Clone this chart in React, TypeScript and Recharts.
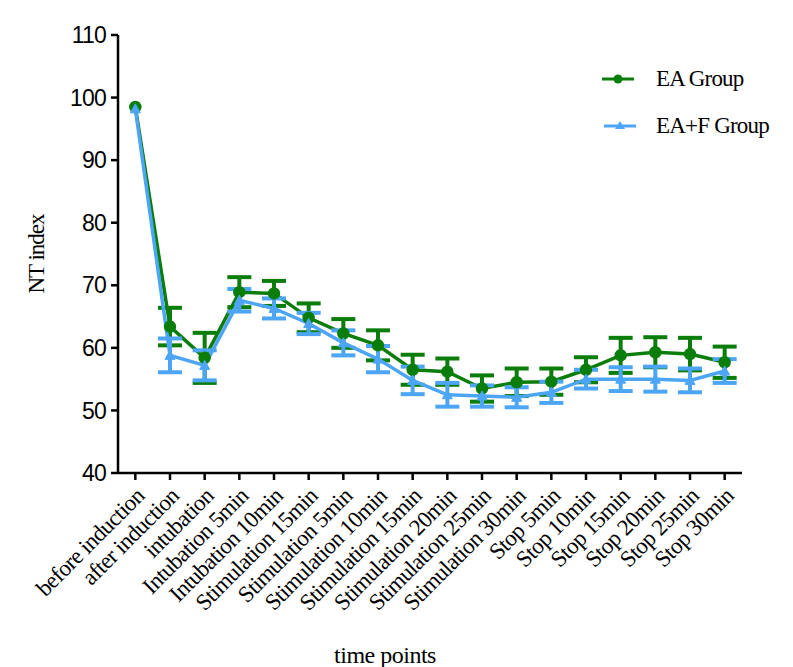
import React from "react";
import { LineChart, Line, XAxis, YAxis, ErrorBar, Legend } from "recharts";

const timePoints = [
  "before induction", "after induction", "intubation", "Intubation 5min", "Intubation 10min",
  "Stimulation 15min", "Stimulation 5min", "Stimulation 10min", "Stimulation 15min",
  "Stimulation 20min", "Stimulation 25min", "Stimulation 30min", "Stop 5min", "Stop 10min",
  "Stop 15min", "Stop 20min", "Stop 25min", "Stop 30min",
];
const eaMean = [98.5, 63.4, 58.4, 68.9, 68.7, 64.8, 62.3, 60.4, 56.5, 56.2, 53.5, 54.5, 54.6, 56.5, 58.8, 59.3, 59.0, 57.7];
const eaErr = [0, 3.0, 4.0, 2.4, 2.0, 2.3, 2.3, 2.4, 2.4, 2.1, 2.1, 2.2, 2.1, 2.0, 2.8, 2.4, 2.6, 2.5];
const eafMean = [98.2, 58.8, 57.2, 67.6, 66.3, 63.9, 60.8, 58.2, 54.8, 52.5, 52.3, 52.1, 52.9, 55.0, 55.0, 55.0, 54.8, 56.3];
const eafErr = [0, 2.7, 2.4, 1.8, 1.6, 1.7, 2.0, 2.1, 2.2, 1.9, 1.7, 1.6, 1.7, 1.5, 1.9, 2.0, 1.9, 1.9];
const yTicks = [40, 50, 60, 70, 80, 90, 100, 110];

const GREEN = "#0a7d0a";
const BLUE = "#4da6f5";

const data = timePoints.map((t, i) => ({
  idx: i,
  label: t,
  ea: eaMean[i],
  eaE: eaErr[i],
  eaf: eafMean[i],
  eafE: eafErr[i],
}));

const XTick = (props: any) => {
  const { x, y, payload } = props;
  const label = timePoints[payload.value] ?? "";
  const ax = x + 5;
  const ay = y + 10;
  return (
    <text
      x={ax}
      y={ay}
      transform={`rotate(-45, ${ax}, ${ay})`}
      textAnchor="end"
      dominantBaseline="central"
      fontFamily="'Liberation Serif', 'DejaVu Serif', serif"
      fontSize={23}
      letterSpacing={-0.6}
      fill="#000"
    >
      {label}
    </text>
  );
};

const Triangle = (props: any) => {
  const { cx, cy, index } = props;
  if (cx == null || cy == null) return <g key={`t${index}`} />;
  const s = 5;
  return (
    <polygon
      key={`t${index}`}
      points={`${cx},${cy - s} ${cx - s},${cy + s * 0.8} ${cx + s},${cy + s * 0.8}`}
      fill={BLUE}
      stroke={BLUE}
    />
  );
};

const LegendContent = () => (
  <div style={{ fontFamily: "'Liberation Serif', serif", fontSize: 23, color: "#000", letterSpacing: -0.8 }}>
    <div style={{ display: "flex", alignItems: "center", height: 47 }}>
      <svg width={40} height={20}>
        <line x1={2} y1={10} x2={34} y2={10} stroke={GREEN} strokeWidth={3} />
        <circle cx={18} cy={10} r={4.5} fill={GREEN} />
      </svg>
      <span style={{ marginLeft: 16 }}>EA Group</span>
    </div>
    <div style={{ display: "flex", alignItems: "center", height: 47 }}>
      <svg width={40} height={20}>
        <line x1={4} y1={10} x2={36} y2={10} stroke={BLUE} strokeWidth={3} />
        <polygon points="20,5 15,13 25,13" fill={BLUE} />
      </svg>
      <span style={{ marginLeft: 16 }}>EA+F Group</span>
    </div>
  </div>
);

export default function App() {
  return (
    <div style={{ position: "absolute", left: 0, top: 0, width: 793, height: 667, background: "#fff" }}>
      <LineChart
        width={793}
        height={667}
        data={data}
        margin={{ top: 35, right: 51, bottom: 4, left: 58 }}
      >
        <XAxis
          dataKey="idx"
          type="number"
          domain={[-0.5, 17.5]}
          ticks={data.map((d) => d.idx)}
          interval={0}
          tick={<XTick />}
          tickSize={7}
          tickMargin={2}
          height={190}
          axisLine={{ stroke: "#000", strokeWidth: 2.5 }}
          tickLine={{ stroke: "#000", strokeWidth: 2.5 }}
          label={{
            value: "time points",
            position: "insideBottom",
            offset: 0,
            dx: -45,
            fontFamily: "'Liberation Serif', serif",
            fontSize: 24,
            fill: "#000",
            letterSpacing: -0.5,
          }}
        />
        <YAxis
          domain={[40, 110]}
          ticks={yTicks}
          width={60}
          tickSize={7}
          tickMargin={5}
          axisLine={{ stroke: "#000", strokeWidth: 2.5 }}
          tickLine={{ stroke: "#000", strokeWidth: 2.5 }}
          tick={{ fontFamily: "'Liberation Sans', Arial, sans-serif", fontSize: 23, fill: "#000", letterSpacing: -0.8 }}
          label={{
            value: "NT index",
            angle: -90,
            position: "insideLeft",
            offset: -22,
            fontFamily: "'Liberation Serif', serif",
            fontSize: 23,
            fill: "#000",
            letterSpacing: -1,
            style: { textAnchor: "middle" },
          }}
        />
        <Legend
          verticalAlign="middle"
          align="center"
          layout="vertical"
          content={<LegendContent />}
          wrapperStyle={{ top: 55, left: 600, width: 190 }}
        />
        <Line
          dataKey="ea"
          stroke={GREEN}
          strokeWidth={3.5}
          dot={{ r: 4.5, fill: GREEN, stroke: GREEN }}
          isAnimationActive={false}
        >
          <ErrorBar dataKey="eaE" width={12} strokeWidth={4} stroke={GREEN} direction="y" />
        </Line>
        <Line
          dataKey="eaf"
          stroke={BLUE}
          strokeWidth={3.5}
          dot={<Triangle />}
          isAnimationActive={false}
        >
          <ErrorBar dataKey="eafE" width={12} strokeWidth={4} stroke={BLUE} direction="y" />
        </Line>
      </LineChart>
    </div>
  );
}
